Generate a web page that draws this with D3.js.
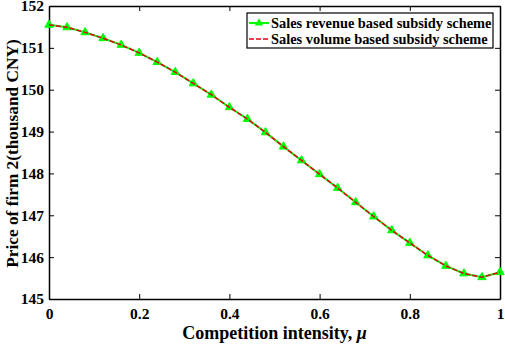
<!DOCTYPE html>
<html>
<head>
<meta charset="utf-8">
<script src="https://cdnjs.cloudflare.com/ajax/libs/d3/7.8.5/d3.min.js"></script>
<style>
  body { margin: 0; background: #fff; }
</style>
</head>
<body>
<div class="container"></div>
<script>
// Data
const mu = [0, 0.04, 0.08, 0.12, 0.16, 0.2, 0.24, 0.28, 0.32, 0.36, 0.4, 0.44, 0.48,
            0.52, 0.56, 0.6, 0.64, 0.68, 0.72, 0.76, 0.8, 0.84, 0.88, 0.92, 0.96, 1]
const revenuePrice = [151.55, 151.49, 151.37, 151.23, 151.07, 150.88, 150.66, 150.42, 150.15,
                      149.88, 149.58, 149.30, 148.98, 148.64, 148.31, 147.98, 147.65, 147.31,
                      146.97, 146.64, 146.34, 146.04, 145.79, 145.61, 145.52, 145.64]
const volumePrice = revenuePrice.slice()
const xTicks = [0, 0.2, 0.4, 0.6, 0.8, 1]
const yTicks = [145, 146, 147, 148, 149, 150, 151, 152]
const seriesNames = ["Sales revenue based subsidy scheme", "Sales volume based subsidy scheme"]

const width = 505
const height = 344
const margin = {top: 6, right: 5, bottom: 45, left: 49}
const w = width - margin.left - margin.right
const h = height - margin.top - margin.bottom
const serif = '"Liberation Serif", "Times New Roman", serif'

const svg = d3.select(".container")
    .append("svg")
    .attr("width", width)
    .attr("height", height)
    .style("font-family", serif)
    .style("font-weight", "bold")

const g = svg.append("g")
    .attr("transform", `translate(${margin.left}, ${margin.top})`)

const xScale = d3.scaleLinear().domain([0, 1]).range([0, w])
const yScale = d3.scaleLinear().domain([145, 152]).range([h, 0])

const fmtX = d => d === 0 ? "0" : d === 1 ? "1" : d3.format(".1f")(d)

// axes, ticks inward on all sides
const tick = 5
g.append("g")
    .attr("transform", `translate(0, ${h})`)
    .call(d3.axisBottom(xScale).tickValues(xTicks).tickFormat(fmtX).tickSizeInner(-tick).tickSizeOuter(0).tickPadding(9))
g.append("g")
    .call(d3.axisLeft(yScale).tickValues(yTicks).tickFormat(d3.format("d")).tickSizeInner(-tick).tickSizeOuter(0).tickPadding(5))
g.append("g")
    .call(d3.axisTop(xScale).tickValues(xTicks).tickFormat("").tickSizeInner(-tick).tickSizeOuter(0))
g.append("g")
    .attr("transform", `translate(${w}, 0)`)
    .call(d3.axisRight(yScale).tickValues(yTicks).tickFormat("").tickSizeInner(-tick).tickSizeOuter(0))

g.selectAll("g").attr("font-family", null).attr("font-size", null)
g.selectAll(".domain").attr("stroke", "#000").attr("stroke-width", 1.5)
g.selectAll(".tick line").attr("stroke", "#000").attr("stroke-width", 1)
g.selectAll(".tick text").attr("fill", "#000").style("font-size", "15.5px")

// lines
const line = d3.line()
    .x((d, i) => xScale(mu[i]))
    .y(d => yScale(d))

g.append("path")
    .datum(revenuePrice)
    .attr("fill", "none")
    .attr("stroke", "#00ff00")
    .attr("stroke-width", 2)
    .attr("d", line)

const tri = d3.symbol().type(d3.symbolTriangle).size(30)
g.append("g")
    .selectAll("path")
    .data(revenuePrice)
    .enter()
    .append("path")
    .attr("d", tri)
    .attr("transform", (d, i) => `translate(${xScale(mu[i])}, ${yScale(d)})`)
    .attr("fill", "#00ff00")
    .attr("stroke", "#00ff00")

g.append("path")
    .datum(volumePrice)
    .attr("fill", "none")
    .attr("stroke", "#e8001a")
    .attr("stroke-width", 1.5)
    .attr("stroke-dasharray", "5,2")
    .attr("d", line)

// legend
const legend = svg.append("g").attr("transform", "translate(247, 13)")
legend.append("rect")
    .attr("width", 246)
    .attr("height", 35)
    .attr("fill", "#fff")
    .attr("stroke", "#000")
    .attr("stroke-width", 1.2)

legend.append("line")
    .attr("x1", 2).attr("x2", 22).attr("y1", 10).attr("y2", 10)
    .attr("stroke", "#00ff00").attr("stroke-width", 2)
legend.append("path")
    .attr("d", tri)
    .attr("transform", "translate(12, 10)")
    .attr("fill", "#00ff00")
legend.append("line")
    .attr("x1", 2).attr("x2", 22).attr("y1", 26).attr("y2", 26)
    .attr("stroke", "#e8001a").attr("stroke-width", 1.5).attr("stroke-dasharray", "5,2")

legend.selectAll(".legend-label")
    .data(seriesNames)
    .enter()
    .append("text")
    .attr("class", "legend-label")
    .attr("x", 24)
    .attr("y", (d, i) => 15 + i * 16)
    .style("font-size", "14.4px")
    .text(d => d)

// axis titles
const xTitle = svg.append("text")
    .attr("x", margin.left + w / 2)
    .attr("y", 339)
    .attr("text-anchor", "middle")
    .style("font-size", "18px")
xTitle.append("tspan").text("Competition intensity, ")
xTitle.append("tspan").style("font-style", "italic").text("μ")

svg.append("text")
    .attr("transform", `translate(18, ${margin.top + h / 2 + 1}) rotate(-90)`)
    .attr("text-anchor", "middle")
    .style("font-size", "17.3px")
    .text("Price of firm 2(thousand CNY)")
</script>
</body>
</html>
